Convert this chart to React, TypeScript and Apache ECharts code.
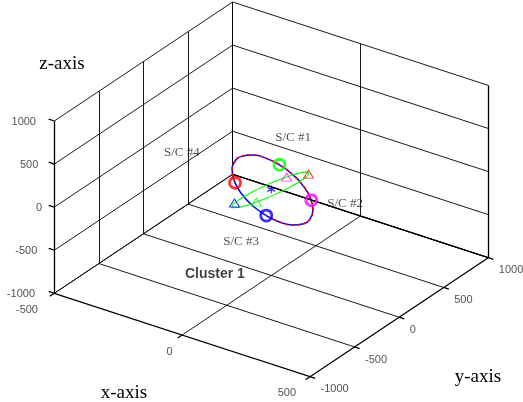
import React, { useEffect, useRef } from "react";
import * as echarts from "echarts";

// ---- axis ranges & ticks ----
const xRange = [-500, 500];
const yRange = [-1000, 1000];
const zRange = [-1000, 1000];
const xTicks = [-500, 0, 500];
const yTicks = [-1000, -500, 0, 500, 1000];
const zTicks = [-1000, -500, 0, 500, 1000];

// ---- reference orbit (x, y, z) ----
const orbit = [
  [189, -75, 0], [217, -183, 0], [220, -269, 0], [197, -323, 0], [150, -338, 0],
  [87, -313, 0], [13, -251, 0], [-61, -159, 0], [-127, -48, 0], [-177, 69, 0],
  [-205, 177, 0], [-208, 263, 0], [-185, 317, 0], [-138, 332, 0], [-75, 307, 0],
  [-1, 245, 0], [73, 153, 0], [139, 42, 0],
];
// ---- green loop (x, y, z) ----
const loop = [
  [34, 324, 0], [23, 322, 0], [8, 280, 0], [-7, 203, 0], [-22, 100, 0],
  [-33, -15, 0], [-41, -131, 0], [-44, -231, 0], [-42, -305, 0], [-34, -344, 0],
  [-23, -342, 0], [-8, -300, 0], [7, -223, 0], [22, -120, 0], [33, -5, 0],
  [41, 111, 0], [44, 211, 0], [42, 285, 0],
];
// ---- spacecraft positions ----
const spacecraft = [[-121, -59, 0], [-75, 307, 0], [148, 24, 0], [90, -315, 0]];
const spacecraftColors = ["#ff0000", "#00ff00", "#ff00ff", "#0000ff"];
const triangles = [[38, 309, 0], [-8, 194, 0], [-43, -290, 0], [11, -199, 0]];
const triangleColors = ["#ff0000", "#ff00ff", "#0000ff", "#00ff00"];
const centre = [[0, 0, 0]];
const scLabels = ["S/C #1", "S/C #2", "S/C #3", "S/C #4"];
const scLabelAt = [[-197, 609, 0], [198, 60, 0], [73, -749, 0], [-430, 30, 0]];
const titleText = "Cluster 1";
const titleAt = [-238, -286, -1000];

// ---- view (oblique projection onto page units) ----
const V = { ox: 54.3, oy: 293.3, xx: 0.2557, xy: 0.0834, yx: 0.08915, yy: -0.0595, zy: -0.08615 };
function P(p: number[]) {
  const dx = p[0] - xRange[0];
  const dy = p[1] - yRange[0];
  const dz = p[2] - zRange[0];
  return [V.ox + dx * V.xx + dy * V.yx, V.oy + dx * V.xy + dy * V.yy + dz * V.zy];
}

export default function App() {
  const ref = useRef<HTMLDivElement>(null);
  useEffect(() => {
    const chart = echarts.init(ref.current!, null, { renderer: "svg" });
    const [x0, x1] = xRange, [y0, y1] = yRange, [z0, z1] = zRange;
    const seg = (a: number[], b: number[]) => ({ coords: [P(a), P(b)] });
    const grid: any[] = [];
    // floor z = z0
    xTicks.forEach((x) => { if (x !== x1) grid.push(seg([x, y0, z0], [x, y1, z0])); });
    yTicks.forEach((y) => { if (y !== y0) grid.push(seg([x0, y, z0], [x1, y, z0])); });
    // left wall x = x0
    yTicks.forEach((y) => { if (y !== y0) grid.push(seg([x0, y, z0], [x0, y, z1])); });
    zTicks.forEach((z) => grid.push(seg([x0, y0, z], [x0, y1, z])));
    // back wall y = y1
    xTicks.forEach((x) => { if (x !== x1) grid.push(seg([x, y1, z0], [x, y1, z1])); });
    zTicks.forEach((z) => grid.push(seg([x0, y1, z], [x1, y1, z])));
    const axes: any[] = [
      seg([x0, y0, z0], [x1, y0, z0]),
      seg([x1, y0, z0], [x1, y1, z0]),
      seg([x0, y0, z0], [x0, y0, z1]),
      seg([x1, y1, z0], [x1, y1, z1]),
      seg([x0, y1, z0], [x1, y1, z0]),
    ];
    zTicks.forEach((z) => axes.push(seg([x0, y0, z], [x0 - 22, y0, z])));
    xTicks.forEach((x) => axes.push(seg([x, y0, z0], [x, y0 - 50, z0])));
    yTicks.forEach((y) => axes.push(seg([x1, y, z0], [x1 + 20, y, z0])));

    const plain = { textBorderWidth: 0, textBorderColor: "transparent", textShadowBlur: 0, position: [0, 0], show: true };
    const tickFont = { ...plain, fontFamily: "Liberation Sans, Arial, sans-serif", fontSize: 11, color: "#262626" };
    const zOff = [-19.3, -17, -12.3, -16, -18.3];
    const xOff = [-16.3, -9.5, -14];
    const tickLabels: any[] = [];
    zTicks.forEach((z, i) => tickLabels.push({
      value: P([x0, y0, z]),
      label: { ...tickFont, formatter: String(z), align: "right", verticalAlign: "middle", offset: [zOff[i], 0] },
    }));
    xTicks.forEach((x, i) => tickLabels.push({
      value: P([x, y0, z0]),
      label: { ...tickFont, formatter: String(x), align: "right", verticalAlign: "middle", offset: [xOff[i], 15.5] },
    }));
    yTicks.forEach((y) => tickLabels.push({
      value: P([x1, y, z0]),
      label: { ...tickFont, formatter: String(y), align: "left", verticalAlign: "middle", offset: [10.5, 11.7] },
    }));

    const serif = "Liberation Serif, Times New Roman, serif";
    const textPts: any[] = scLabels.map((t, i) => ({
      value: P(scLabelAt[i]),
      label: { ...plain, formatter: t, align: "left", verticalAlign: "middle", fontFamily: serif, fontSize: 13, color: "#262626" },
    }));
    textPts.push({
      value: P(titleAt),
      label: { ...plain, formatter: titleText, align: "left", verticalAlign: "middle", fontFamily: "Liberation Sans, Arial, sans-serif", fontWeight: "bold", fontSize: 14, color: "#111" },
    });

    const closed = (a: number[][]) => [...a, a[0]].map(P);
    const redArc = [...orbit.slice(8), ...orbit.slice(0, 6)].map(P);

    chart.setOption({
      animation: false,
      grid: { left: 0, right: 0, top: 0, bottom: 0 },
      xAxis: { type: "value", min: 0, max: 523, show: false },
      yAxis: { type: "value", min: 0, max: 402, inverse: true, show: false },
      graphic: [
        { type: "text", x: 62, y: 62, style: { text: "z-axis", font: `19px ${serif}`, fill: "#000", textAlign: "center", textVerticalAlign: "middle" } },
        { type: "text", x: 124, y: 391, style: { text: "x-axis", font: `19px ${serif}`, fill: "#000", textAlign: "center", textVerticalAlign: "middle" } },
        { type: "text", x: 478, y: 375, style: { text: "y-axis", font: `19px ${serif}`, fill: "#000", textAlign: "center", textVerticalAlign: "middle" } },
      ],
      series: [
        { type: "lines", coordinateSystem: "cartesian2d", data: grid, lineStyle: { color: "#000", width: 0.9, opacity: 1 }, silent: true, z: 1 },
        { type: "lines", coordinateSystem: "cartesian2d", data: axes, lineStyle: { color: "#000", width: 1.3, opacity: 1 }, silent: true, z: 2 },
        { type: "line", data: closed(orbit), smooth: 0.5, symbol: "none", lineStyle: { color: "#0000ff", width: 1.5 }, z: 3 },
        { type: "line", data: redArc, smooth: 0.5, symbol: "none", lineStyle: { color: "#ff0000", width: 1.5, type: [3, 3] }, z: 4 },
        { type: "line", data: closed(loop), smooth: 0.5, symbol: "none", lineStyle: { color: "#00ff00", width: 1.1 }, z: 5 },
        {
          type: "scatter", z: 6, symbol: "triangle", symbolSize: [10, 8],
          data: triangles.map((p, i) => ({ value: P(p), itemStyle: { color: "transparent", borderColor: triangleColors[i], borderWidth: 1 } })),
        },
        {
          type: "scatter", z: 7, symbol: "circle", symbolSize: 11,
          data: spacecraft.map((p, i) => ({ value: P(p), itemStyle: { color: "transparent", borderColor: spacecraftColors[i], borderWidth: 2.8 } })),
        },
        {
          type: "scatter", z: 7, symbol: "path://M0,-5L0,5M-4.3,-2.5L4.3,2.5M-4.3,2.5L4.3,-2.5", symbolSize: 8,
          data: centre.map((p) => ({ value: P(p), itemStyle: { color: "transparent", borderColor: "#0000ff", borderWidth: 1.2 } })),
        },
        { type: "scatter", z: 8, symbolSize: 0, data: tickLabels, silent: true, itemStyle: { color: "#000" } },
        { type: "scatter", z: 8, symbolSize: 0, data: textPts, silent: true, itemStyle: { color: "#000" } },
      ],
    });
    return () => chart.dispose();
  }, []);
  return (
    <div style={{ position: "fixed", left: 0, top: 0, width: 523, height: 402, background: "#fff" }}>
      <div ref={ref} style={{ width: 523, height: 402, willChange: "transform" }} />
    </div>
  );
}
